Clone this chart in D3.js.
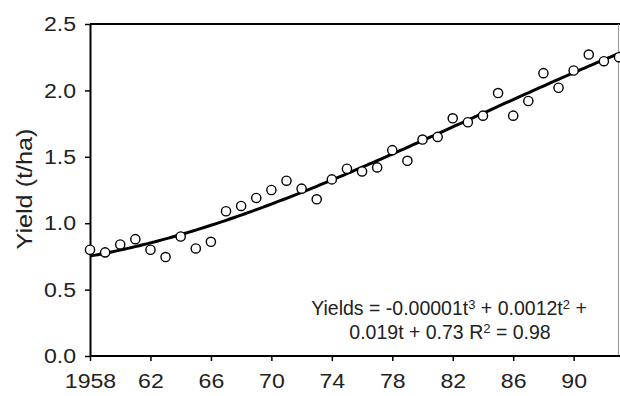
<!DOCTYPE html>
<html>
<head>
<meta charset="utf-8">
<script src="https://cdn.jsdelivr.net/npm/d3@7"></script>
<style>
  html, body { margin: 0; padding: 0; background: #fff; }
  svg { display: block; }
  text { font-family: "Liberation Sans", Arial, sans-serif; fill: #222; }
  .wide { transform-box: fill-box; transform: scaleX(1.1); }
</style>
</head>
<body>
<svg id="chart" width="620" height="396"></svg>
<script>
// Annual yield observations, 1958–1993
const years = [1958, 1959, 1960, 1961, 1962, 1963, 1964, 1965, 1966, 1967,
               1968, 1969, 1970, 1971, 1972, 1973, 1974, 1975, 1976, 1977,
               1978, 1979, 1980, 1981, 1982, 1983, 1984, 1985, 1986, 1987,
               1988, 1989, 1990, 1991, 1992, 1993];
const yields = [0.80, 0.78, 0.84, 0.88, 0.80, 0.745, 0.90, 0.81, 0.86, 1.09,
                1.13, 1.19, 1.25, 1.32, 1.26, 1.18, 1.33, 1.41, 1.39, 1.42,
                1.55, 1.47, 1.63, 1.65, 1.79, 1.76, 1.81, 1.98, 1.81, 1.92,
                2.13, 2.02, 2.15, 2.27, 2.22, 2.25];

const xTicks = [1958, 1962, 1966, 1970, 1974, 1978, 1982, 1986, 1990];
const xTickLabels = ["1958", "62", "66", "70", "74", "78", "82", "86", "90"];
const yTicks = [0.0, 0.5, 1.0, 1.5, 2.0, 2.5];
const yTitle = "Yield (t/ha)";

const svg = d3.select("#chart");
const plotLeft = 90, plotRight = 619, plotTop = 24, plotBottom = 356;

const x = d3.scaleLinear().domain([1958, 1993]).range([plotLeft, plotRight]);
const y = d3.scaleLinear().domain([0, 2.5]).range([plotBottom, plotTop]);

// Least-squares cubic in t = year - 1958
function cubicFit(ts, vs) {
  const n = 4;
  const A = Array.from({length: n}, () => new Array(n + 1).fill(0));
  ts.forEach((t, k) => {
    const p = [1, t, t * t, t * t * t];
    for (let i = 0; i < n; i++) {
      for (let j = 0; j < n; j++) A[i][j] += p[i] * p[j];
      A[i][n] += p[i] * vs[k];
    }
  });
  for (let i = 0; i < n; i++) {
    let m = i;
    for (let r = i + 1; r < n; r++) if (Math.abs(A[r][i]) > Math.abs(A[m][i])) m = r;
    [A[i], A[m]] = [A[m], A[i]];
    for (let r = 0; r < n; r++) {
      if (r === i) continue;
      const f = A[r][i] / A[i][i];
      for (let c = i; c <= n; c++) A[r][c] -= f * A[i][c];
    }
  }
  return A.map((row, i) => row[n] / row[i]);
}
const coef = cubicFit(years.map(d => d - 1958), yields);
const fitAt = yr => {
  const t = yr - 1958;
  return coef[0] + coef[1] * t + coef[2] * t * t + coef[3] * t * t * t;
};

// Frame: top line and light right edge
svg.append("line").attr("x1", plotLeft).attr("x2", 620).attr("y1", plotTop).attr("y2", plotTop)
  .attr("stroke", "#000").attr("stroke-width", 2);
svg.append("line").attr("x1", 618.5).attr("x2", 618.5).attr("y1", plotTop).attr("y2", plotBottom)
  .attr("stroke", "#999").attr("stroke-width", 1);

// Axes
const xAxis = svg.append("g").attr("transform", `translate(0,${plotBottom})`)
  .call(d3.axisBottom(x).tickValues(xTicks).tickFormat((d, i) => xTickLabels[i])
    .tickSizeInner(5).tickSizeOuter(0).tickPadding(12));
xAxis.select(".domain").attr("d", `M${plotLeft},0H620`).attr("stroke-width", 2);
xAxis.selectAll(".tick line").attr("stroke-width", 1.5);
xAxis.selectAll("text").attr("font-size", 21).attr("class", "wide")
  .style("transform-origin", "center").attr("fill", "#222");

const yAxis = svg.append("g").attr("transform", `translate(${plotLeft},0)`)
  .call(d3.axisLeft(y).tickValues(yTicks).tickFormat(d3.format(".1f"))
    .tickSizeInner(5).tickSizeOuter(0).tickPadding(9));
yAxis.select(".domain").attr("stroke-width", 2);
yAxis.selectAll(".tick line").attr("stroke-width", 1.5);
yAxis.selectAll("text").attr("font-size", 21).attr("class", "wide")
  .style("transform-origin", "right center").attr("fill", "#222");

// Axis title
svg.append("text")
  .attr("transform", "translate(32,189) rotate(-90)")
  .attr("text-anchor", "middle")
  .attr("font-size", 22)
  .attr("textLength", 121)
  .attr("lengthAdjust", "spacingAndGlyphs")
  .text(yTitle);

// Fitted curve
const curveYears = d3.range(1958, 1993.5, 0.25);
svg.append("path")
  .datum(curveYears)
  .attr("fill", "none").attr("stroke", "#000").attr("stroke-width", 3)
  .attr("d", d3.line().x(d => x(d)).y(d => y(fitAt(d))));

// Observations
svg.append("g").selectAll("circle")
  .data(years.map((yr, i) => ({yr, v: yields[i]})))
  .join("circle")
  .attr("cx", d => x(d.yr)).attr("cy", d => y(d.v)).attr("r", 4.6)
  .attr("fill", "#fff").attr("stroke", "#000").attr("stroke-width", 1.4);

// Regression equation, two lines
const eqLine = (x0, y0, parts) => {
  const t = svg.append("text").attr("text-anchor", "middle").attr("font-size", 19.5)
    .attr("x", x0).attr("y", y0);
  parts.forEach(([s, sup]) => {
    if (sup) t.append("tspan").attr("font-size", 13).attr("dy", -6).text(s);
    else t.append("tspan").attr("dy", t.selectAll("tspan").size() ? 6 : 0).text(s);
  });
};
eqLine(449, 309, [["Yields = -0.00001t"], ["3", true], [" + 0.0012t"], ["2", true], [" +"]]);
eqLine(450, 333, [["0.019t + 0.73 R"], ["2", true], [" = 0.98"]]);
</script>
</body>
</html>
